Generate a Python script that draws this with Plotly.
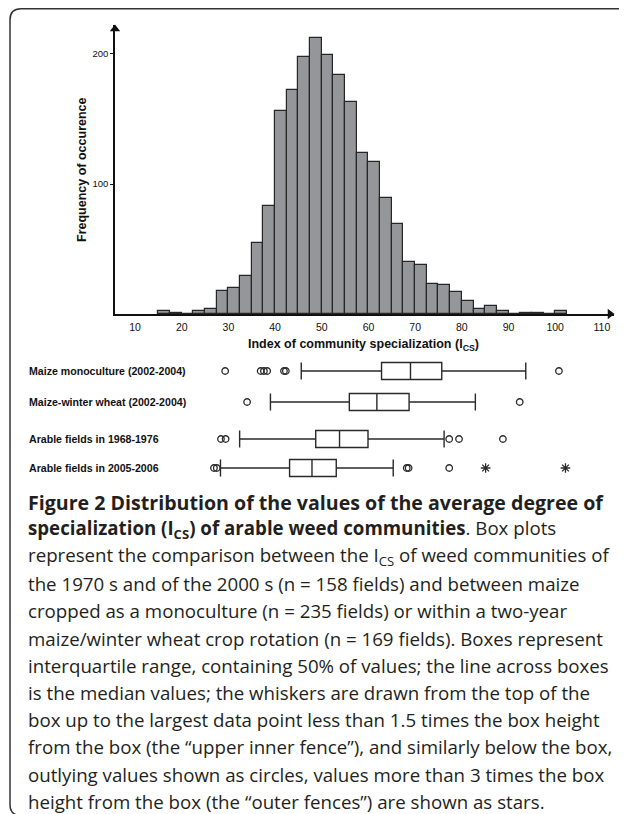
import plotly.graph_objects as go

# ---------------- data ----------------
BIN_WIDTH = 2.5
bin_start = [15, 17.5, 20, 22.5, 25, 27.5, 30, 32.5, 35, 37.5, 40, 42.5, 45, 47.5,
             50, 52.5, 55, 57.5, 60, 62.5, 65, 67.5, 70, 72.5, 75, 77.5, 80, 82.5,
             85, 87.5, 90, 92.5, 95, 97.5, 100]
counts = [2, 1, 0, 2, 4, 18, 20, 29, 55, 83, 156, 172, 198, 212, 199, 184, 163, 124,
          117, 89, 69, 40, 38, 23, 22, 17, 10, 4, 6, 2, 0, 1, 1, 0, 2]
x_ticks = [10, 20, 30, 40, 50, 60, 70, 80, 90, 100, 110]
y_ticks = [100, 200]

groups = ["Maize monoculture (2002-2004)", "Maize-winter wheat (2002-2004)",
          "Arable fields in 1968-1976", "Arable fields in 2005-2006"]
q1 = [62.8, 55.9, 48.7, 43.1]
median = [69.0, 61.8, 53.8, 47.9]
q3 = [75.7, 68.7, 59.9, 53.1]
lower_whisker = [45.6, 39.0, 32.4, 28.3]
upper_whisker = [93.7, 82.9, 76.2, 65.3]
outliers = [[29.3, 36.9, 37.6, 38.3, 41.9, 42.3, 100.8],
            [34.0, 92.4],
            [28.4, 29.4, 77.3, 79.4, 88.8],
            [26.9, 27.5, 68.2, 68.6, 77.3]]
extremes = [[], [], [], [85.1, 102.2]]

caption = [
    "<b>Figure 2 Distribution of the values of the average degree of</b>",
    "<b>specialization (I<sub>CS</sub>) of arable weed communities</b>. Box plots",
    "represent the comparison between the I<sub>CS</sub> of weed communities of",
    "the 1970 s and of the 2000 s (n = 158 fields) and between maize",
    "cropped as a monoculture (n = 235 fields) or within a two-year",
    "maize/winter wheat crop rotation (n = 169 fields). Boxes represent",
    "interquartile range, containing 50% of values; the line across boxes",
    "is the median values; the whiskers are drawn from the top of the",
    "box up to the largest data point less than 1.5 times the box height",
    "from the box (the \u201cupper inner fence\u201d), and similarly below the box,",
    "outlying values shown as circles, values more than 3 times the box",
    "height from the box (the \u201couter fences\u201d) are shown as stars.",
]

# ---------------- layout helpers (screen pixels -> paper) ----------------
OFF = 8                      # page body margin
W, H = 627 - OFF, 814 - OFF
def px(x):
    return (x - OFF) / W
def py(y):
    return 1 - (y - OFF) / H

CHART_FONT = "Liberation Sans, Arial, sans-serif"
CAP_FONT = "Open Sans, Noto Sans, sans-serif"
X_RANGE = [5.7, 112.6]
Y_RANGE = [0, 222.3]
AX_LEFT, AX_RIGHT, AX_BOTTOM, AX_TOP = 115, 614, 314, 25
ROW_PX = [371, 402, 439, 468]

fig = go.Figure()

centers = [b + BIN_WIDTH / 2 for b in bin_start]
fig.add_trace(go.Bar(
    x=centers, y=counts, width=BIN_WIDTH,
    marker=dict(color="#959699", line=dict(color="#262626", width=1.2)),
    xaxis="x", yaxis="y", showlegend=False, hoverinfo="x+y",
))

# arrow heads at axis ends
x_per_px = (X_RANGE[1] - X_RANGE[0]) / (AX_RIGHT - AX_LEFT)
y_per_px = (Y_RANGE[1] - Y_RANGE[0]) / (AX_BOTTOM - AX_TOP)
fig.add_trace(go.Scatter(
    x=[X_RANGE[1] - 4 * x_per_px], y=[0], mode="markers", cliponaxis=False,
    marker=dict(symbol="triangle-right", size=9, color="#111"),
    xaxis="x", yaxis="y", showlegend=False, hoverinfo="skip"))
fig.add_trace(go.Scatter(
    x=[X_RANGE[0]], y=[Y_RANGE[1] - 4 * y_per_px], mode="markers", cliponaxis=False,
    marker=dict(symbol="triangle-up", size=9, color="#111"),
    xaxis="x", yaxis="y", showlegend=False, hoverinfo="skip"))

for i, g in enumerate(groups):
    fig.add_trace(go.Box(
        y=[ROW_PX[i]], q1=[q1[i]], median=[median[i]], q3=[q3[i]],
        lowerfence=[lower_whisker[i]], upperfence=[upper_whisker[i]],
        orientation="h", width=17, whiskerwidth=1, boxpoints=False,
        fillcolor="white", line=dict(color="#2a2a2a", width=1.4),
        xaxis="x2", yaxis="y2", showlegend=False, name=g,
    ))
    if outliers[i]:
        fig.add_trace(go.Scatter(
            x=outliers[i], y=[ROW_PX[i]] * len(outliers[i]), mode="markers",
            marker=dict(symbol="circle-open", size=6.5, color="#2a2a2a", line=dict(width=1.3)),
            xaxis="x2", yaxis="y2", showlegend=False,
        ))
    if extremes[i]:
        fig.add_trace(go.Scatter(
            x=extremes[i], y=[ROW_PX[i]] * len(extremes[i]), mode="markers",
            marker=dict(symbol="asterisk-open", size=8, color="#2a2a2a", line=dict(width=1.3)),
            xaxis="x2", yaxis="y2", showlegend=False,
        ))

annotations = []
annotations.append(dict(x=px(82), y=py(170), xref="paper", yref="paper",
                        xanchor="center", yanchor="middle",
                        text="<b>Frequency of occurence</b>", textangle=-90, showarrow=False,
                        font=dict(family=CHART_FONT, size=12.5, color="#111")))
annotations.append(dict(x=px(363), y=py(345), xref="paper", yref="paper",
                        xanchor="center", yanchor="middle",
                        text="<b>Index of community specialization (I<sub>CS</sub>)</b>",
                        showarrow=False, font=dict(family=CHART_FONT, size=12.5, color="#111")))
for i, g in enumerate(groups):
    annotations.append(dict(x=px(27), y=py(ROW_PX[i]), xref="paper", yref="paper",
                            xanchor="left", yanchor="middle", text="<b>%s</b>" % g,
                            showarrow=False, font=dict(family=CHART_FONT, size=10.6, color="#111")))
for i, line in enumerate(caption):
    size = 19.6 if i == 0 else 18.7
    annotations.append(dict(x=px(26), y=py(502 + 27.2 * i), xref="paper", yref="paper",
                            xanchor="left", yanchor="middle", text=line, showarrow=False,
                            font=dict(family=CAP_FONT, size=size, color="#231f20")))

# frame (rounded rectangle; right and bottom edges fall at the picture's border)
L, T, R, B, r = 10, 8.8, 628.5, 815.5, 11
path = ("M {a},{b} L {c},{d} Q {e},{f} {g},{h} L {i},{j} Q {k},{l} {m},{n} "
        "L {o},{p} Q {q},{s} {t},{u} L {v},{w} Q {x1},{y1} {a},{b} Z").format(
    a=px(L + r), b=py(B), c=px(R - r), d=py(B),
    e=px(R), f=py(B), g=px(R), h=py(B - r),
    i=px(R), j=py(T + r), k=px(R), l=py(T), m=px(R - r), n=py(T),
    o=px(L + r), p=py(T), q=px(L), s=py(T), t=px(L), u=py(T + r),
    v=px(L), w=py(B - r), x1=px(L), y1=py(B))

fig.update_layout(
    width=W, height=H, margin=dict(l=0, r=0, t=0, b=0),
    paper_bgcolor="white", plot_bgcolor="white",
    bargap=0,
    xaxis=dict(domain=[px(AX_LEFT), px(AX_RIGHT)], range=X_RANGE, tickvals=x_ticks,
               ticks="outside", ticklen=3, tickcolor="rgba(0,0,0,0)",
               showline=True, linecolor="#111", linewidth=1.5, showgrid=False, zeroline=False,
               tickfont=dict(family=CHART_FONT, size=10.5, color="#111"),
               tickprefix="<b>", ticksuffix="</b>", anchor="y"),
    yaxis=dict(domain=[py(AX_BOTTOM), py(AX_TOP)], range=Y_RANGE, tickvals=y_ticks,
               ticks="outside", ticklen=3, tickcolor="#111", tickwidth=1,
               showline=True, linecolor="#111", linewidth=1.5, showgrid=False, zeroline=False,
               tickfont=dict(family=CHART_FONT, size=9.5, color="#111"),
               tickprefix="<b>", ticksuffix="</b>", anchor="x"),
    xaxis2=dict(domain=[px(AX_LEFT), px(AX_RIGHT)], range=X_RANGE, visible=False, anchor="y2"),
    yaxis2=dict(domain=[py(490), py(350)], range=[490, 350], visible=False, anchor="x2"),
    annotations=annotations,
    shapes=[dict(type="path", path=path, xref="paper", yref="paper",
                 line=dict(color="#333", width=1.5))],
)

fig.write_html("out.html")
